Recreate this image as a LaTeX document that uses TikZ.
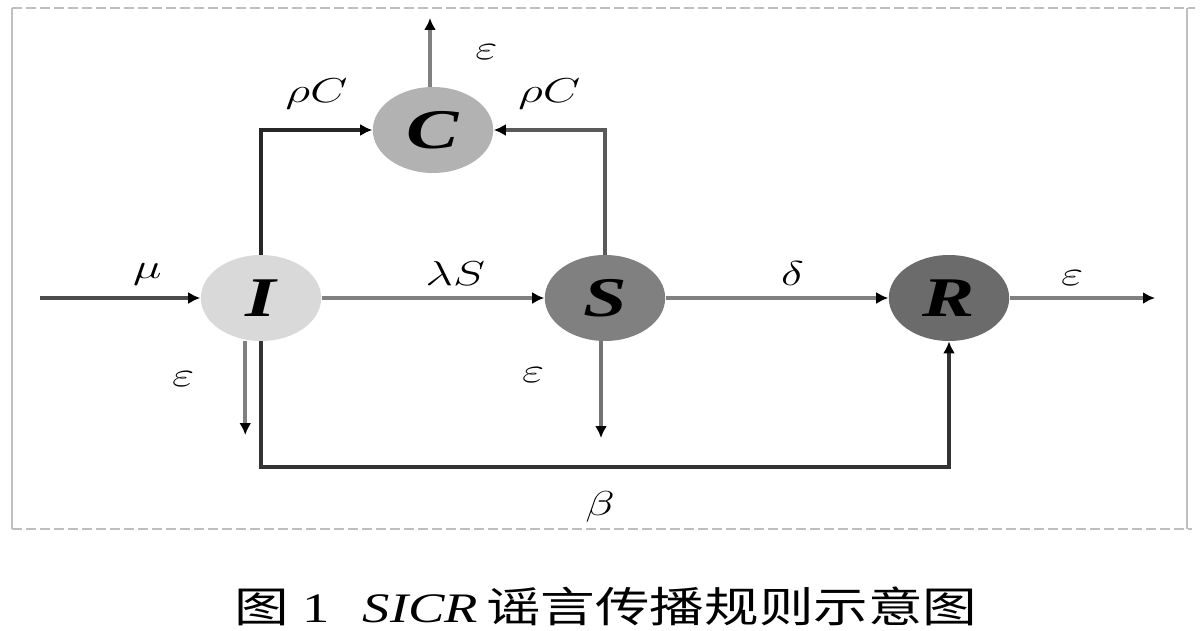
\documentclass[tikz,border=0pt]{standalone}
\usepackage{fontspec}
\setmainfont{Liberation Serif}
\newfontfamily\cjk{Noto Sans CJK SC}
\usetikzlibrary{arrows.meta}

\tikzset{
  state/.style={circle, minimum size=43pt, inner sep=0pt, xscale=1.4, text=black,
    font=\fontsize{28}{30}\selectfont\bfseries\itshape},
  rate/.style={xscale=1.4, text=black, font=\fontsize{19}{21}\selectfont},
  flow/.style={line width=1.8pt, black!50, -{Latex[length=6pt,width=6pt,color=black]}},
  frame/.style={black!25, line width=1pt},
}

\begin{document}
\begin{tikzpicture}[x=0.5pt, y=-0.5pt]
    \useasboundingbox (0,0) rectangle (1200,631);
    % Frame
    \draw[frame, dashed, dash pattern=on 5pt off 2pt] (12,8) -- (1195,8);
    \draw[frame, dashed, dash pattern=on 5pt off 2pt] (12,529) -- (1192,529);
    \draw[frame] (12,8) -- (12,529);
    \draw[frame] (1187,8) -- (1187,529);
    % States
    \node[state, fill=black!15] (I) at (261,298) {I};
    \node[state, fill=black!30] (C) at (433,130) {C};
    \node[state, fill=black!50] (S) at (605,298) {S};
    \node[state, fill=black!58] (R) at (949,298) {R};
    % Free ends
    \coordinate (in) at (40,298);
    \coordinate (out) at (1155,298);
    \coordinate (cup) at (430,18);
    \coordinate (idown) at (245,435);
    \coordinate (sdown) at (601,438);
    \coordinate (bot) at (600,467);
    % Flows
    \draw[flow, black!70] (in) -- node[rate, above=2pt, pos=0.67] {$\mu$} (I);
    \draw[flow] (I) -- node[rate, above=2pt, pos=0.6] {$\lambda S$} (S);
    \draw[flow] (S) -- node[rate, above=2pt, pos=0.57] {$\delta$} (R);
    \draw[flow] (R) -- node[rate, above=2pt, pos=0.43] {$\varepsilon$} (out);
    \draw[flow, black!85] (I.north) |- node[rate, above=6pt, pos=0.75] {$\rho C$} (C.west);
    \draw[flow, black!65] (S.north) |- node[rate, above=6pt, pos=0.75] {$\rho C$} (C.east);
    \draw[flow] (C.north -| cup) -- node[rate, right=12pt] {$\varepsilon$} (cup);
    \draw[flow] (I.255 |- I.south) -- node[rate, left=14pt, pos=0.4] {$\varepsilon$} (I.255 |- idown);
    \draw[flow, black!55] (S.south -| sdown) -- node[rate, left=16pt, pos=0.35] {$\varepsilon$} (sdown);
    \draw[flow, black!80] (I.south) |- (bot) node[rate, below=8pt] {$\beta$} -| (R.south);
    % Caption
    \node[xscale=1.3, font=\fontsize{21}{23}\selectfont] (cap) at (606,606)
      {{\cjk 图}\hspace{0.25em}1\hspace{0.6em}\textit{SICR}\hspace{0.15em}{\cjk 谣言传播规则示意图}};
\end{tikzpicture}
\end{document}
